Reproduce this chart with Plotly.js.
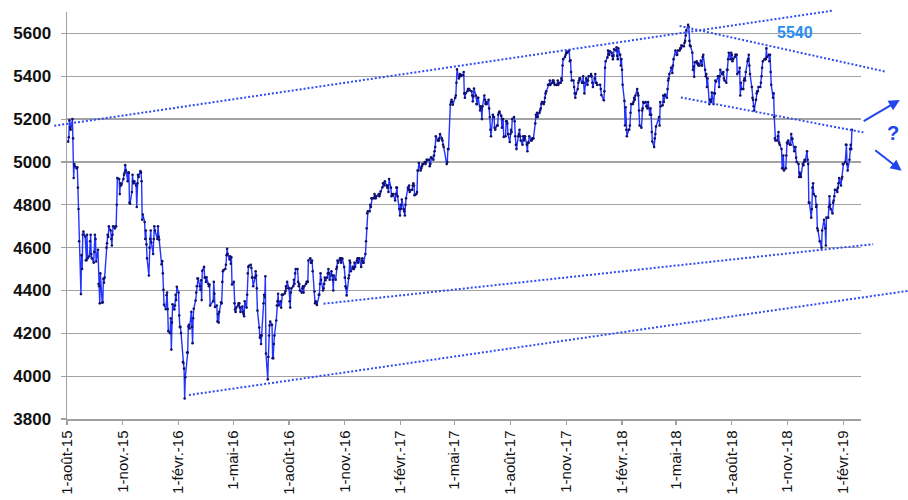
<!DOCTYPE html>
<html>
<head>
<meta charset="utf-8">
<script src="https://cdn.plot.ly/plotly-3.0.1.min.js"></script>
<style>html,body{margin:0;padding:0;background:#fff}#chart{width:908px;height:500px}</style>
</head>
<body>
<div id="chart"></div>
<script>
// Daily closing values, one array per month (trading days in order)
const cac2015 = [ // Aug..Dec 2015
  [5095,5115,5194,5160,5150,5200,5110,4925,4990,4980,4970,4975,4880,4780,4630,4383,4565,4500,4660,4675,4652],
  [4541,4541,4660,4550,4560,4630,4660,4570,4550,4530,4580,4660,4640,4535,4590,4430,4420,4340,4480,4343,4345,4455],
  [4436,4460,4600,4620,4660,4650,4700,4680,4640,4610,4660,4700,4690,4700,4700,4800,4925,4920,4850,4900,4890,4897],
  [4920,4940,4950,4985,4960,4910,4950,4950,4810,4805,4860,4940,4910,4900,4910,4890,4790,4900,4940,4930,4957],
  [4950,4910,4730,4755,4720,4640,4680,4615,4550,4470,4600,4640,4680,4625,4570,4640,4700,4680,4640,4700,4650,4637]
];
const cac2016 = [
  [4522,4537,4480,4403,4333,4312,4378,4390,4313,4210,4200,4270,4124,4250,4336,4311,4330,4380,4355,4417],
  [4390,4283,4229,4230,4201,4066,4061,4035,3896,3995,4110,4110,4232,4240,4223,4300,4230,4154,4270,4315,4353],
  [4390,4420,4456,4456,4420,4403,4448,4355,4492,4510,4460,4460,4440,4462,4430,4420,4428,4330,4350,4440,4385],
  [4323,4330,4255,4290,4250,4300,4345,4340,4440,4490,4495,4500,4520,4565,4595,4570,4545,4560,4525,4555,4428],
  [4440,4340,4311,4300,4320,4330,4340,4340,4320,4300,4325,4300,4290,4280,4350,4320,4380,4480,4510,4515,4520,4505],
  [4460,4460,4420,4460,4490,4470,4410,4306,4227,4180,4190,4150,4190,4340,4380,4370,4466,4106,3985,4090,4190,4237],
  [4255,4240,4084,4084,4150,4190,4260,4330,4350,4385,4330,4350,4320,4380,4380,4380,4386,4396,4420,4410,4440],
  [4410,4350,4320,4390,4410,4420,4450,4430,4480,4500,4500,4440,4420,4430,4400,4390,4410,4420,4390,4420,4430,4440,4440],
  [4440,4540,4550,4530,4530,4540,4490,4395,4340,4350,4345,4332,4380,4380,4430,4480,4450,4400,4410,4430,4460,4448],
  [4460,4480,4500,4480,4450,4490,4470,4450,4400,4470,4450,4500,4510,4540,4530,4550,4540,4530,4550,4548,4509],
  [4460,4420,4411,4377,4457,4470,4540,4530,4490,4510,4500,4500,4530,4510,4540,4550,4530,4550,4550,4510,4540,4550],
  [4530,4530,4570,4630,4690,4760,4770,4770,4800,4790,4830,4830,4830,4850,4840,4830,4840,4850,4840,4850,4862]
];
const cac2017 = [
  [4882,4900,4900,4890,4910,4890,4880,4890,4860,4920,4880,4840,4850,4845,4850,4820,4850,4880,4880,4840,4780,4750],
  [4800,4780,4825,4780,4770,4750,4800,4830,4880,4870,4890,4860,4868,4870,4890,4900,4890,4845,4850,4860],
  [4960,4960,4995,4960,4970,4980,4990,4990,5000,4990,5000,5010,5010,5010,4980,4990,5020,5020,5010,5030,5050,5070,5120],
  [5100,5100,5100,5110,5130,5110,5100,5080,5070,4990,5000,5060,5060,5268,5280,5290,5280,5267],
  [5300,5310,5370,5432,5390,5400,5410,5400,5405,5405,5420,5320,5300,5320,5330,5340,5340,5340,5335,5330,5310,5283],
  [5305,5343,5310,5270,5270,5300,5300,5240,5260,5250,5200,5260,5310,5290,5270,5280,5270,5290,5250,5210,5150,5120],
  [5220,5210,5210,5160,5150,5170,5170,5220,5230,5235,5215,5160,5200,5200,5117,5120,5190,5190,5180,5130,5093],
  [5130,5150,5140,5200,5210,5190,5120,5080,5060,5120,5130,5150,5120,5100,5080,5120,5100,5110,5120,5080,5050,5090,5090],
  [5120,5100,5100,5110,5110,5110,5180,5220,5210,5230,5210,5230,5240,5250,5270,5280,5270,5280,5300,5320,5330],
  [5360,5360,5360,5380,5360,5370,5380,5380,5370,5360,5360,5360,5380,5360,5370,5370,5390,5380,5450,5480,5490,5500],
  [5510,5515,5510,5520,5470,5475,5420,5380,5380,5350,5320,5300,5320,5340,5370,5380,5390,5390,5370,5370,5400,5370],
  [5320,5390,5380,5360,5380,5400,5400,5410,5400,5370,5350,5390,5410,5370,5370,5360,5360,5340,5312]
];
const cac2018 = [
  [5288,5330,5440,5470,5488,5520,5504,5500,5517,5510,5495,5480,5495,5526,5520,5535,5495,5480,5530,5500,5450,5480],
  [5430,5360,5285,5170,5255,5150,5120,5150,5150,5170,5230,5270,5270,5280,5300,5290,5310,5340,5320,5310],
  [5240,5170,5160,5240,5250,5280,5275,5280,5260,5260,5250,5280,5220,5250,5220,5140,5095,5070,5110,5130,5165],
  [5210,5170,5280,5260,5265,5310,5280,5310,5315,5300,5340,5380,5390,5410,5440,5440,5415,5450,5480,5520],
  [5500,5500,5520,5520,5530,5530,5545,5540,5540,5555,5565,5590,5614,5640,5630,5565,5545,5540,5510,5430,5445,5398],
  [5465,5470,5460,5460,5450,5450,5473,5450,5450,5490,5500,5430,5400,5410,5350,5390,5270,5290,5290,5280,5324],
  [5270,5320,5320,5380,5375,5400,5400,5350,5400,5430,5410,5410,5420,5390,5380,5370,5430,5430,5480,5510,5480,5510],
  [5500,5470,5480,5490,5500,5500,5500,5410,5420,5440,5310,5370,5340,5340,5380,5390,5380,5420,5470,5480,5500,5450,5410],
  [5350,5300,5290,5260,5240,5290,5320,5330,5330,5350,5350,5370,5400,5440,5470,5480,5480,5480,5530,5490],
  [5500,5470,5500,5420,5360,5300,5320,5210,5110,5100,5100,5120,5140,5090,5080,5060,4970,4970,5030,4960,4970,5030,5090],
  [5085,5100,5080,5080,5130,5110,5107,5050,5070,5070,5020,5000,4990,4930,4950,4940,4930,4990,4985,5000,5010,5003],
  [5050,5010,4990,4810,4810,4740,4780,4880,4900,4850,4840,4790,4800,4690,4680,4630,4600,4680,4730]
];
const cac2019 = [
  [4690,4610,4740,4740,4790,4840,4800,4780,4760,4810,4820,4840,4870,4870,4860,4880,4900,4925,4890,4920,4930,4990],
  [4990,5000,5080,5080,4990,4960,5010,5060,5080,5060,5150]
];
const holidays = ['2015-12-25','2016-01-01','2016-03-25','2016-03-28','2016-12-26','2017-04-14','2017-04-17',
  '2017-05-01','2017-12-25','2017-12-26','2018-01-01','2018-03-30','2018-04-02','2018-05-01','2018-12-25',
  '2018-12-26','2019-01-01'];

// Axis ticks
const tickDates = ['2015-08-01','2015-11-01','2016-02-01','2016-05-01','2016-08-01','2016-11-01','2017-02-01',
  '2017-05-01','2017-08-01','2017-11-01','2018-02-01','2018-05-01','2018-08-01','2018-11-01','2019-02-01'];
const tickLabels = ['1-août-15','1-nov.-15','1-févr.-16','1-mai-16','1-août-16','1-nov.-16','1-févr.-17',
  '1-mai-17','1-août-17','1-nov.-17','1-févr.-18','1-mai-18','1-août-18','1-nov.-18','1-févr.-19'];
const yTicks = [3800,4000,4200,4400,4600,4800,5000,5200,5400,5600];
const xRange = ['2015-08-01','2019-03-02'];
const yRange = [3800,5700];

// Trend lines (date, value) endpoints
const trendStartDate = ['2015-07-11','2018-05-07','2018-05-09','2016-09-27','2016-02-18'];
const trendStartVal  = [5169,5635,5301,4338,3912];
const trendEndDate   = ['2019-01-16','2019-04-11','2019-03-06','2019-03-22','2019-05-18'];
const trendEndVal    = [5707,5422,5138,4616,4398];

// Arrows (tail -> head) and labels
const arrowTailDate = ['2019-03-04','2019-03-23'];
const arrowTailVal  = [5187,5060];
const arrowHeadDate = ['2019-05-05','2019-05-08'];
const arrowHeadVal  = [5289,4959];
const labelText = ['5540','?'];
const labelDate = ['2018-11-13','2019-04-24'];
const labelVal  = [5602,5136];

// Build series
function monthDays(y, m) {
  const out = [];
  const d = new Date(Date.UTC(y, m, 1));
  while (d.getUTCMonth() === m) {
    const wd = d.getUTCDay();
    const s = d.toISOString().slice(0, 10);
    if (wd !== 0 && wd !== 6 && holidays.indexOf(s) < 0) out.push(s);
    d.setUTCDate(d.getUTCDate() + 1);
  }
  return out;
}
const dates = [], values = [];
[[2015, 7, cac2015], [2016, 0, cac2016], [2017, 0, cac2017], [2018, 0, cac2018], [2019, 0, cac2019]].forEach(([yr, m0, months]) => {
  months.forEach((vals, i) => {
    const days = monthDays(yr, m0 + i);
    const n = Math.min(days.length, vals.length);
    for (let j = 0; j < n; j++) { dates.push(days[j]); values.push(vals[j]); }
  });
});

const M = {l: 67, r: 47, t: 12, b: 81};
const W = 908 - M.l - M.r, H = 500 - M.t - M.b;
const t0 = Date.parse(xRange[0]), t1 = Date.parse(xRange[1]);
const px = d => (Date.parse(d) - t0) / (t1 - t0);
const py = v => (v - yRange[0]) / (yRange[1] - yRange[0]);

const lineBlue = '#2f4cf2';
const shapes = trendStartDate.map((d, i) => ({
  type: 'line', xref: 'paper', yref: 'paper',
  x0: px(d), y0: py(trendStartVal[i]), x1: px(trendEndDate[i]), y1: py(trendEndVal[i]),
  line: {color: lineBlue, width: 2, dash: '2px,2px'}
}));

const annotations = [];
arrowHeadDate.forEach((d, i) => {
  annotations.push({
    xref: 'paper', yref: 'paper', x: px(d), y: py(arrowHeadVal[i]),
    ax: (px(arrowTailDate[i]) - px(d)) * W, ay: -(py(arrowTailVal[i]) - py(arrowHeadVal[i])) * H,
    axref: 'pixel', ayref: 'pixel', text: '', showarrow: true,
    arrowhead: 2, arrowsize: 1.1, arrowwidth: 2, arrowcolor: '#1f45ee'
  });
});
annotations.push({
  xref: 'paper', yref: 'paper', x: px(labelDate[0]), y: py(labelVal[0]), text: '<b>' + labelText[0] + '</b>',
  xanchor: 'center', yanchor: 'middle',
  showarrow: false, font: {family: 'Liberation Sans, Arial', size: 16, color: '#2a8ef2'}
});
annotations.push({
  xref: 'paper', yref: 'paper', x: px(labelDate[1]), y: py(labelVal[1]), text: '<b>' + labelText[1] + '</b>',
  xanchor: 'center', yanchor: 'middle',
  showarrow: false, font: {family: 'Liberation Sans, Arial', size: 20, color: '#1f45ee'}
});

const trace = {
  x: dates, y: values, type: 'scatter', mode: 'lines+markers',
  line: {color: '#2233ff', width: 1.4},
  marker: {color: '#10106a', size: 2.6},
  hoverinfo: 'x+y'
};

const layout = {
  width: 908, height: 500,
  margin: M,
  paper_bgcolor: '#fff', plot_bgcolor: '#fff',
  showlegend: false,
  font: {family: 'Liberation Sans, Arial, sans-serif', color: '#111'},
  xaxis: {
    type: 'date', range: xRange, tickvals: tickDates, ticktext: tickLabels, tickangle: -90,
    showgrid: false, zeroline: false, showline: true, linecolor: '#a0a0a0', linewidth: 1.5,
    ticks: 'outside', ticklen: 4, tickcolor: '#a0a0a0', tickwidth: 1.2,
    tickfont: {family: 'Liberation Sans, Arial', size: 15, color: '#111'}
  },
  yaxis: {
    range: yRange, tickvals: yTicks, showgrid: true, gridcolor: '#a3a3a3', gridwidth: 1.3, zeroline: false,
    showline: true, linecolor: '#a0a0a0', linewidth: 1.5,
    ticks: 'outside', ticklen: 5, tickcolor: '#a0a0a0', tickwidth: 1.2, ticklabelstandoff: 6,
    tickfont: {family: 'Liberation Sans, Arial', size: 17, color: '#111', weight: 'bold'}
  },
  shapes: shapes,
  annotations: annotations
};

Plotly.newPlot('chart', [trace], layout, {displayModeBar: false, staticPlot: true});
</script>
</body>
</html>
